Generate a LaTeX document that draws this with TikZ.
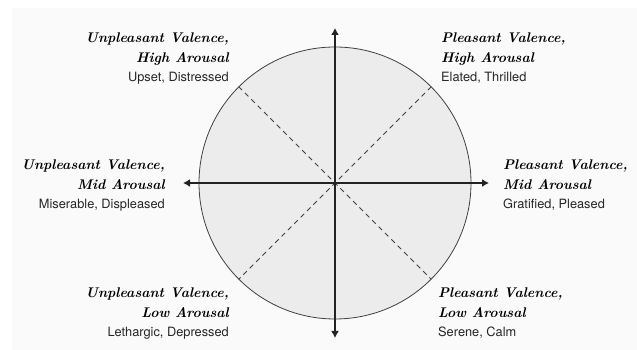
\documentclass[tikz,border=0pt]{standalone}
\usepackage{fontspec}
\setsansfont{TeX Gyre Heros}
\usepackage{tikz}
\usetikzlibrary{arrows.meta, positioning, calc}
\usepackage{xcolor}
\definecolor{PageTint}{RGB}{250,250,250}
\definecolor{DiscFill}{RGB}{236,236,236}
\definecolor{AxisInk}{RGB}{35,35,35}
\tikzset{
  disc/.style={circle, draw=black!75, line width=0.8pt, fill=DiscFill,
    inner sep=0pt, minimum size=272pt},
  axisarrow/.style={{Latex[length=7pt,width=8pt]}-{Latex[length=7pt,width=8pt]},
    line width=1.5pt, color=AxisInk},
  splitline/.style={dash pattern=on 5pt off 4pt, line width=0.8pt, color=black!75},
  quadlbl/.style={inner sep=0pt,
    font=\bfseries\itshape\addfontfeatures{FakeBold=2}\fontsize{14}{19.5}\selectfont},
  leftlbl/.style={quadlbl, align=right},
  rightlbl/.style={quadlbl, align=left}
}
\newcommand{\moodwords}[1]{\normalfont\sffamily\color{black!85}\fontsize{12.8}{19.5}\selectfont #1}

\begin{document}
\begin{tikzpicture}[x=1pt, y=1pt]

  % Page
  \useasboundingbox (0,0) rectangle (637,350);
  \fill[PageTint] (12,0) rectangle (637,342);

  % Circle and axes
  \node[disc] (circ) at (335,167) {};
  \coordinate (up)    at (335,322);
  \coordinate (down)  at (335,12);
  \coordinate (left)  at (183,167);
  \coordinate (right) at (489,167);

  \draw[splitline] (circ.45) -- (circ.225);
  \draw[splitline] (circ.135) -- (circ.315);
  \draw[axisarrow] (down) -- (up);
  \draw[axisarrow] (left) -- (right);

  % Quadrant labels
  \node[leftlbl, anchor=north east] (uphigh) at (229,317)
    {Unpleasant Valence,\\High Arousal\\\moodwords{Upset, Distressed}};
  \node[rightlbl, anchor=north west] (phigh) at (441,317)
    {Pleasant Valence,\\High Arousal\\\moodwords{Elated, Thrilled}};
  \node[leftlbl, anchor=north east] (upmid) at (165,190)
    {Unpleasant Valence,\\Mid Arousal\\\moodwords{Miserable, Displeased}};
  \node[rightlbl, anchor=north west] (pmid) at (503,190)
    {Pleasant Valence,\\Mid Arousal\\\moodwords{Gratified, Pleased}};
  \node[leftlbl, anchor=north east] (uplow) at (229,62)
    {Unpleasant Valence,\\Low Arousal\\\moodwords{Lethargic, Depressed}};
  \node[rightlbl, anchor=north west] (plow) at (438,62)
    {Pleasant Valence,\\Low Arousal\\\moodwords{Serene, Calm}};

\end{tikzpicture}
\end{document}
